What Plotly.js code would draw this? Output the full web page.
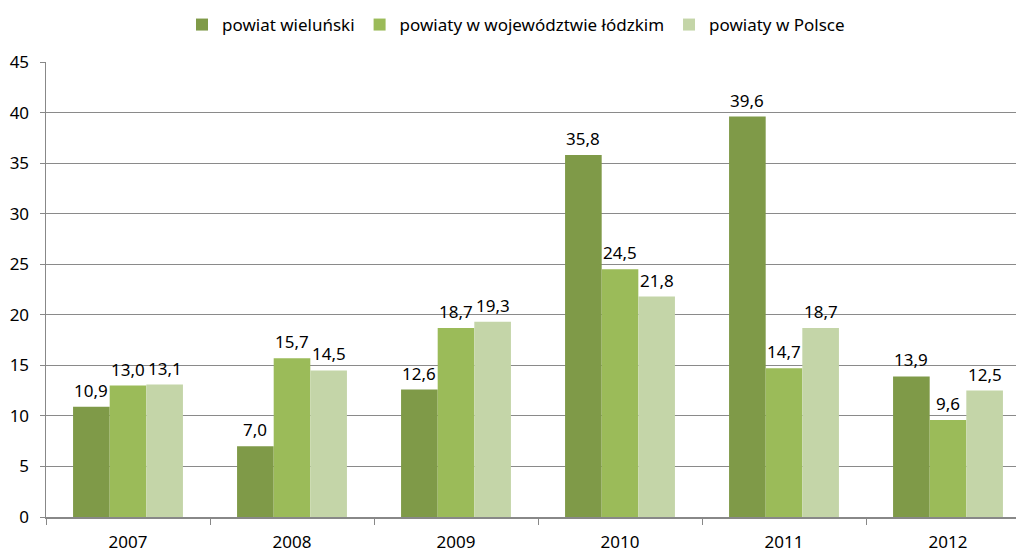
<!DOCTYPE html>
<html>
<head>
<meta charset="utf-8">
<script src="https://cdn.plot.ly/plotly-3.0.1.min.js"></script>
<style>
html,body{margin:0;padding:0;overflow:hidden;background:#fff;width:1016px;height:551px;}
#chart{width:1032px;height:551px;}
</style>
</head>
<body>
<div id="chart"></div>
<script>
const years = ['2007','2008','2009','2010','2011','2012'];
const seriesNames = ['powiat wieluński','powiaty w województwie łódzkim','powiaty w Polsce'];
const wielunski = [10.9, 7.0, 12.6, 35.8, 39.6, 13.9];
const lodzkie = [13.0, 15.7, 18.7, 24.5, 14.7, 9.6];
const polska = [13.1, 14.5, 19.3, 21.8, 18.7, 12.5];
const colors = ['#7F9A48','#9BBB59','#C4D5A8'];

const FONT = 'Noto Sans, Open Sans, sans-serif';
const FS = 17;
const fmt = v => v.toFixed(1).replace('.', ',');
const values = [wielunski, lodzkie, polska];

const traces = values.map((vals, i) => ({
  type: 'bar',
  name: seriesNames[i],
  x: years,
  y: vals,
  marker: {color: colors[i], line: {width: 0}},
  hoverinfo: 'none'
}));

// data labels above each bar, offset by bar slot within group
const W = 1032, ML = 46, MR = 2;
const catW = (W - ML - MR) / years.length;
const bargap = 0.33;
const barW = catW * (1 - bargap) / values.length;
const annotations = [];
values.forEach((vals, i) => {
  vals.forEach((v, j) => {
    annotations.push({
      x: j, y: v, xref: 'x', yref: 'y',
      text: fmt(v), showarrow: false,
      xanchor: 'center', yanchor: 'bottom',
      xshift: (i - (values.length - 1) / 2) * barW,
      yshift: 3,
      font: {family: FONT, size: FS, color: '#000'}
    });
  });
});

const layout = {
  width: W,
  height: 551,
  margin: {l: ML, r: MR, t: 62, b: 34},
  paper_bgcolor: '#fff',
  plot_bgcolor: '#fff',
  font: {family: FONT, size: FS, color: '#000'},
  barmode: 'group',
  bargap: bargap,
  bargroupgap: 0,
  showlegend: true,
  legend: {
    orientation: 'h',
    xref: 'container', yref: 'container',
    x: 0.5, xanchor: 'center',
    y: 1 - 25 / 551, yanchor: 'middle',
    font: {family: FONT, size: FS, color: '#000'},
    traceorder: 'normal'
  },
  annotations: annotations,
  xaxis: {
    type: 'category',
    categoryorder: 'array',
    categoryarray: years,
    range: [-0.5, years.length - 0.5],
    tickson: 'boundaries',
    ticks: 'outside',
    ticklen: 6,
    tickcolor: '#888',
    showline: true,
    linecolor: '#888',
    linewidth: 1.5,
    showgrid: false,
    tickfont: {family: FONT, size: FS, color: '#000'},
    ticklabelstandoff: 9
  },
  yaxis: {
    range: [0, 45],
    dtick: 5,
    ticks: 'outside',
    ticklen: 5,
    tickcolor: '#888',
    showline: true,
    linecolor: '#888',
    linewidth: 1.5,
    showgrid: true,
    gridcolor: '#8a8a8a',
    gridwidth: 1.2,
    zeroline: false,
    tickfont: {family: FONT, size: FS, color: '#000'},
    ticklabelstandoff: 7
  }
};
Plotly.newPlot('chart', traces, layout, {staticPlot: true, displayModeBar: false});
</script>
</body>
</html>
